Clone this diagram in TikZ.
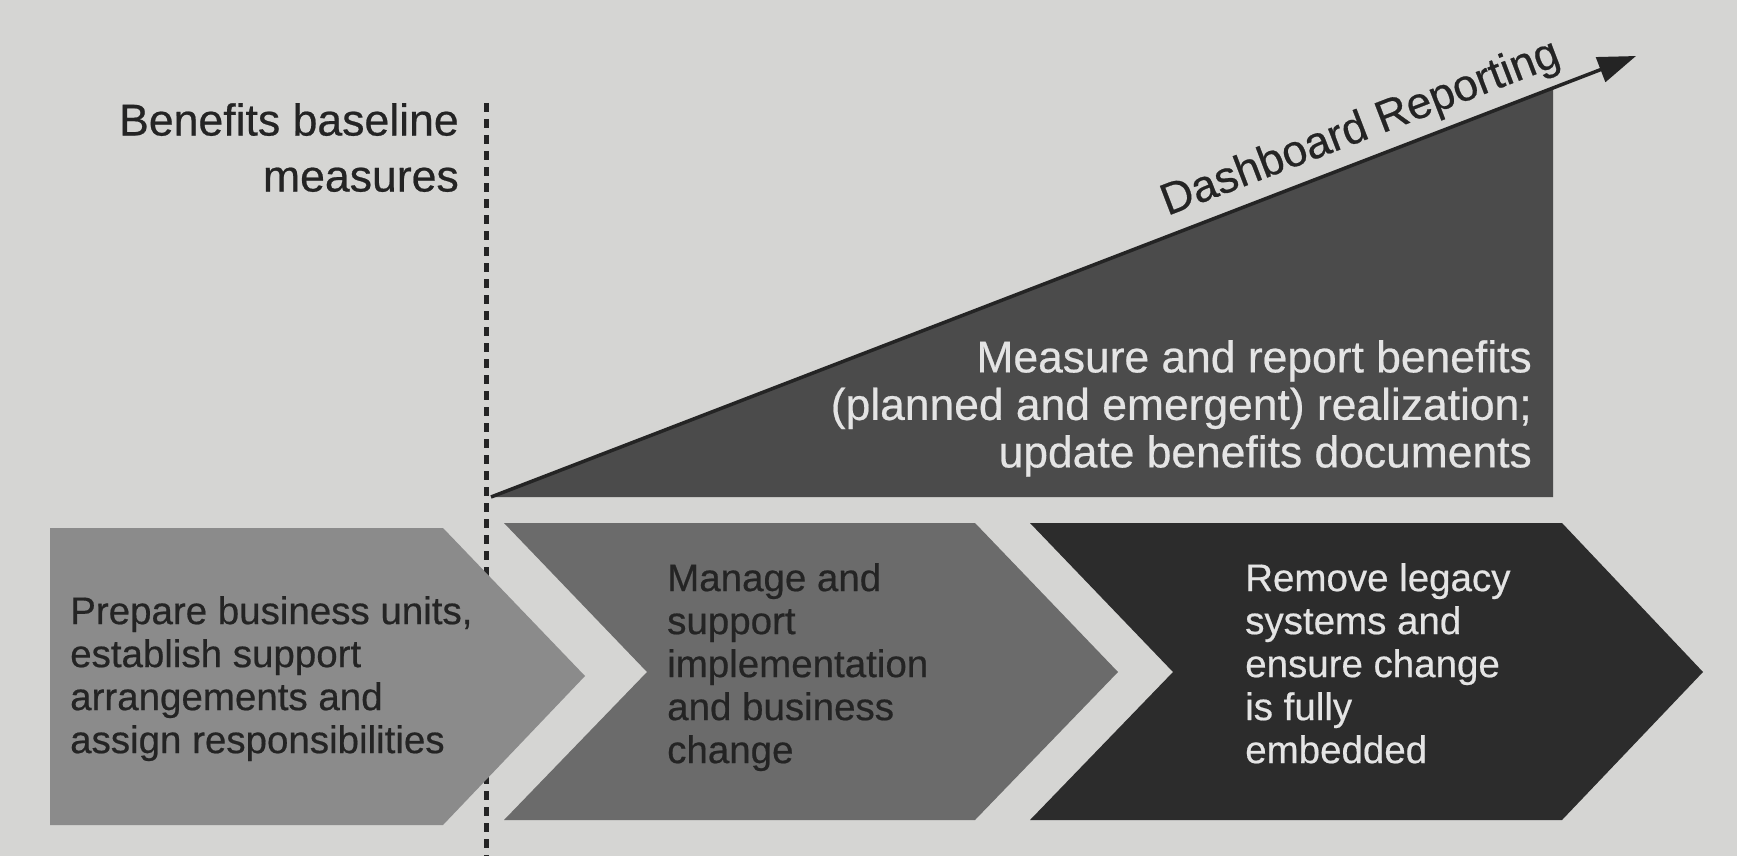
\documentclass[tikz,border=0pt]{standalone}
\usepackage{fontspec}
\setmainfont[FakeBold=0.5]{Liberation Sans}
\usetikzlibrary{arrows.meta}
\definecolor{paper}{HTML}{D5D5D3}
\definecolor{greyA}{HTML}{8B8B8B}
\definecolor{greyB}{HTML}{6B6B6B}
\definecolor{greyC}{HTML}{2C2C2C}
\definecolor{greyT}{HTML}{4B4B4B}
\definecolor{ink}{HTML}{242424}
\definecolor{lightink}{HTML}{E4E4E4}
\tikzset{
  chevtext/.style={inner sep=0pt, anchor=north west, align=left,
    font={\fontsize{38.5}{43}\selectfont}},
  bigtext/.style={inner sep=0pt, align=right,
    font={\fontsize{44.4}{47.5}\selectfont}},
  baseline line/.style={draw=ink, line width=5pt, dash pattern=on 9pt off 7pt},
  report arrow/.style={draw=ink, line width=3.5pt,
    -{Triangle[length=38pt,width=26pt]}},
}
\begin{document}
\begin{tikzpicture}[x=1pt,y=-1pt]
\fill[paper] (0,0) rectangle (1737,856);
\useasboundingbox (0,0) rectangle (1737,856);

% dotted baseline marker
\coordinate (dtop) at (486,103);
\coordinate (dbot) at (486,856);
\draw[baseline line] (dtop) -- (dbot);

\node[bigtext, anchor=north east, font={\fontsize{44.6}{56}\selectfont}, text=ink]
  (bl) at (459,103) {Benefits baseline\\measures};

% triangle and arrow
\coordinate (base) at (491,497);
\coordinate (tip) at (1636,56);
\fill[greyT] (493,497) -- (1553,497) -- (1553,89) -- cycle;
\draw[report arrow] (base) -- (tip);
\node[font={\fontsize{44.5}{48}\selectfont}, text=ink, rotate=21.03, anchor=base, inner sep=0pt]
  (dash) at (1365,140) {Dashboard Reporting};
\node[bigtext, anchor=north east, text=lightink]
  (meas) at (1532,340) {Measure and report benefits\\(planned and emergent) realization;\\update benefits documents};

% chevrons
\fill[greyA] (50,528) -- (443,528) -- (585,676) -- (443,825) -- (50,825) -- cycle;
\fill[greyB] (504,523) -- (975,523) -- (1118,672) -- (975,820) -- (504,820) -- (647,672) -- cycle;
\fill[greyC] (1030,523) -- (1562,523) -- (1703,672) -- (1562,820) -- (1030,820) -- (1173,672) -- cycle;

\node[chevtext, text=ink] (c1) at (70,596)
  {Prepare business units,\\establish support\\arrangements and\\assign responsibilities};
\node[chevtext, text=ink] (c2) at (667,563)
  {Manage and\\support\\implementation\\and business\\change};
\node[chevtext, text=lightink] (c3) at (1245,563)
  {Remove legacy\\systems and\\ensure change\\is fully\\embedded};
\end{tikzpicture}
\end{document}
